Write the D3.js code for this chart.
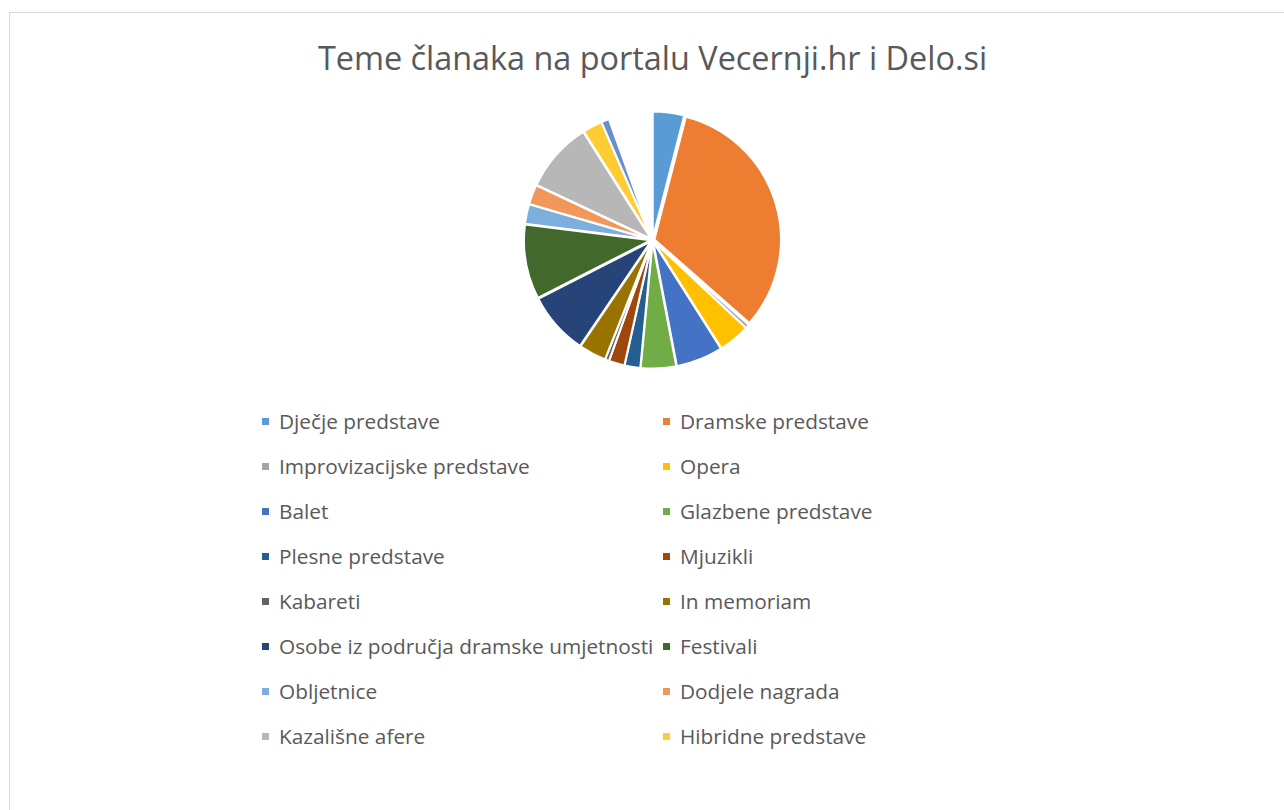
<!DOCTYPE html>
<html>
<head>
<meta charset="utf-8">
<script src="https://cdn.jsdelivr.net/npm/d3@7"></script>
<style>
  body { margin: 0; background: #fff; }
  svg { display: block; }
</style>
</head>
<body>
<svg id="chart"></svg>
<script>
// categories in pie order (last two are not shown in the legend)
const categories = [
  "Dječje predstave", "Dramske predstave", "Improvizacijske predstave", "Opera",
  "Balet", "Glazbene predstave", "Plesne predstave", "Mjuzikli",
  "Kabareti", "In memoriam", "Osobe iz područja dramske umjetnosti", "Festivali",
  "Obljetnice", "Dodjele nagrada", "Kazališne afere", "Hibridne predstave",
  "Kategorija 17", "Kategorija 18"
];
const counts = [8, 65, 1, 8, 12, 9, 4, 4, 1, 7, 16, 19, 5, 5, 18, 5, 2, 11];
const colors = [
  "#5B9BD5", "#ED7D31", "#A5A5A5", "#FFC000", "#4472C4", "#70AD47",
  "#255E91", "#9E480E", "#636363", "#997300", "#264478", "#43682B",
  "#7CAFDD", "#F1975A", "#B7B7B7", "#FFCD33", "#698ED0", "none"
];
const legendCount = 16;

const width = 1284, height = 810;
const svg = d3.select("#chart").attr("width", width).attr("height", height);

// chart frame
svg.append("rect")
  .attr("x", 9.5).attr("y", 12.5)
  .attr("width", 1290).attr("height", 820)
  .attr("fill", "#fff").attr("stroke", "#d9d9d9");

svg.append("text")
  .attr("x", 652.5).attr("y", 70)
  .attr("text-anchor", "middle")
  .style("font-family", "'Open Sans', sans-serif")
  .style("font-size", "32.4px")
  .style("fill", "#595959")
  .text("Teme članaka na portalu Vecernji.hr i Delo.si");

const color = d3.scaleOrdinal().domain(categories).range(colors);

const pie = d3.pie().sort(null).value(d => d.value);
const arc = d3.arc().innerRadius(0).outerRadius(126.5);
const data = categories.map((c, i) => ({ name: c, value: counts[i] }));
const explode = 2;

svg.append("g")
  .attr("transform", "translate(652.5,240)")
  .selectAll("path")
  .data(pie(data))
  .join("path")
  .attr("d", arc)
  .attr("transform", d => {
    const a = (d.startAngle + d.endAngle) / 2;
    return `translate(${explode * Math.sin(a)},${-explode * Math.cos(a)})`;
  })
  .attr("fill", d => color(d.data.name))
  .attr("stroke", d => color(d.data.name) === "none" ? "none" : "#fff")
  .attr("stroke-width", 2)
  .attr("stroke-linejoin", "round");

// legend, two columns
const legendItems = data.slice(0, legendCount);
const colX = d3.scaleOrdinal().domain([0, 1]).range([262, 663]);
const rowY = d3.scaleLinear().domain([0, 7]).range([421.5, 736.5]);

const legend = svg.append("g")
  .selectAll("g")
  .data(legendItems)
  .join("g")
  .attr("transform", (d, i) => `translate(${colX(i % 2)},${rowY(Math.floor(i / 2))})`);

legend.append("rect")
  .attr("x", 0).attr("y", -3.5)
  .attr("width", 7).attr("height", 7)
  .attr("fill", d => color(d.name));

legend.append("text")
  .attr("x", 17).attr("y", 0)
  .attr("dy", "0.35em")
  .style("font-family", "'Open Sans', sans-serif")
  .style("font-size", "20.8px")
  .style("fill", "#595959")
  .text(d => d.name);
</script>
</body>
</html>
